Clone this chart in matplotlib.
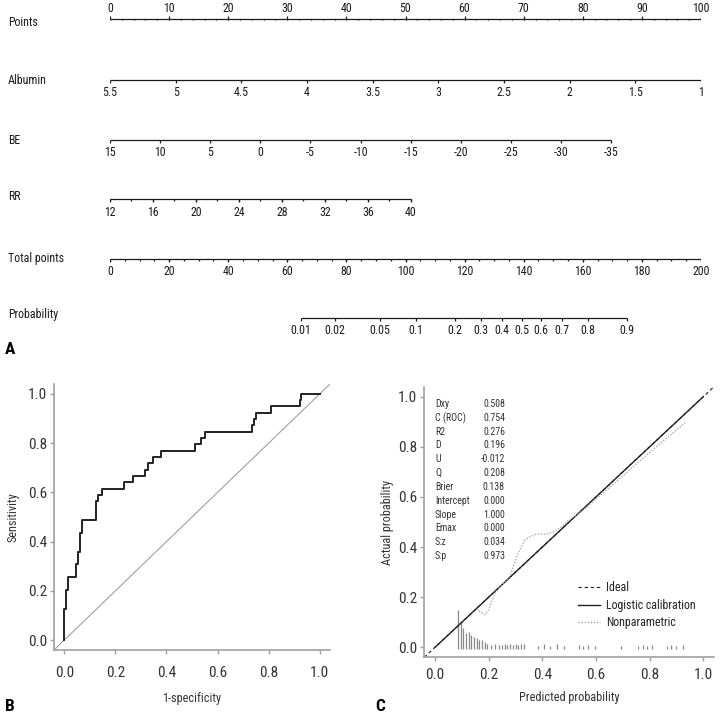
import numpy as np
import matplotlib
matplotlib.use('Agg')
import matplotlib.pyplot as plt
from matplotlib.transforms import blended_transform_factory

plt.rcParams['font.family'] = ['Roboto Condensed', 'Archivo Narrow', 'PT Sans Narrow',
                               'Liberation Sans', 'DejaVu Sans']

# ---------------- nomogram (A) ----------------
points_ticks = np.arange(0, 101, 10)
points_minor = np.arange(0, 101, 2)
albumin_ticks = [5.5, 5, 4.5, 4, 3.5, 3, 2.5, 2, 1.5, 1]
be_ticks = [15, 10, 5, 0, -5, -10, -15, -20, -25, -30, -35]
rr_ticks = [12, 16, 20, 24, 28, 32, 36, 40]
rr_minor = np.arange(12, 41, 2)
total_ticks = np.arange(0, 201, 20)
total_minor = np.arange(0, 201, 5)
prob_ticks = [0.01, 0.02, 0.05, 0.1, 0.2, 0.3, 0.4, 0.5, 0.6, 0.7, 0.8, 0.9]

# points scale of each predictor (value at 0 points, value at max, max points)
albumin_range = (5.5, 1.0, 100.0)
be_range = (15.0, -35.0, 84.8)
rr_range = (12.0, 40.0, 50.9)
# total points = prob_a + prob_b * logit(p)
prob_a, prob_b = 139.3, 16.25

# ---------------- ROC (B) ----------------
roc_fpr = [0, 0, 0.0065, 0.013, 0.045, 0.052, 0.060, 0.068, 0.123, 0.131, 0.147,
           0.232, 0.271, 0.318, 0.326, 0.348, 0.379, 0.510, 0.536, 0.549, 0.736,
           0.743, 0.749, 0.811, 0.922, 0.928, 1.0]
roc_tpr = [0, 0.128, 0.205, 0.256, 0.308, 0.359, 0.436, 0.487, 0.564, 0.590, 0.615,
           0.641, 0.667, 0.692, 0.718, 0.744, 0.769, 0.795, 0.821, 0.846, 0.872,
           0.897, 0.923, 0.949, 0.974, 1.0, 1.0]

# ---------------- calibration (C) ----------------
np_x = [0.155, 0.17, 0.186, 0.20, 0.211, 0.224, 0.25, 0.28, 0.304, 0.335, 0.354, 0.379,
        0.416, 0.441, 0.472, 0.491, 0.55, 0.6, 0.7, 0.8, 0.932]
np_y = [0.152, 0.14, 0.130, 0.15, 0.182, 0.215, 0.25, 0.285, 0.362, 0.428, 0.441, 0.452,
        0.452, 0.46, 0.481, 0.501, 0.545, 0.592, 0.684, 0.778, 0.896]
spike_x = [0.087, 0.096, 0.105, 0.115, 0.125, 0.135, 0.145, 0.155, 0.165, 0.175, 0.185, 0.195,
           0.21, 0.225, 0.24, 0.25, 0.26, 0.27, 0.28, 0.29, 0.30, 0.31, 0.32, 0.33,
           0.385, 0.405, 0.43, 0.455, 0.48, 0.535, 0.55, 0.57, 0.595, 0.695,
           0.755, 0.775, 0.79, 0.81, 0.865, 0.88, 0.90, 0.925]
spike_h = [0.149, 0.098, 0.076, 0.056, 0.062, 0.049, 0.040, 0.036, 0.029, 0.029, 0.021, 0.014,
           0.008, 0.013, 0.008, 0.010, 0.013, 0.008, 0.013, 0.010, 0.013, 0.008, 0.013, 0.015,
           0.007, 0.012, 0.007, 0.012, 0.006, 0.010, 0.006, 0.010, 0.006, 0.007,
           0.006, 0.010, 0.006, 0.010, 0.007, 0.011, 0.007, 0.010]
stat_names = ['Dxy', 'C (ROC)', 'R2', 'D', 'U', 'Q', 'Brier', 'Intercept', 'Slope', 'Emax', 'S:z', 'S:p']
stat_values = ['0.508', '0.754', '0.276', '0.196', '-0.012', '0.208', '0.138', '0.000', '1.000',
               '0.000', '0.034', '0.973']

W, H = 723, 713
fig = plt.figure(figsize=(W / 100, H / 100), dpi=100)
INK = '#1a1a1a'
GREY = '#a0a0a0'
NOMO_FS = 8.6


def fig_box(left, top, right, bottom):
    # pixel box -> figure fraction
    return [left / W, 1 - bottom / H, (right - left) / W, (bottom - top) / H]


# ---- A: nomogram ----
ax = fig.add_axes(fig_box(110, 0, 701, 350))
ax.set_xlim(0, 100)
ax.set_ylim(350, 0)
ax.axis('off')
lab_tr = blended_transform_factory(fig.transFigure, ax.transData)


def lin_pts(vals, rng):
    v0, v1, pmax = rng
    return (np.asarray(vals, float) - v0) / (v1 - v0) * pmax


def scale_row(y, pos, labels, minor=None, above=False, name=None, name_y=None):
    ax.plot([min(pos), max(pos)], [y, y], color=INK, lw=0.9, solid_capstyle='butt')
    if above:
        ax.vlines(pos, y - 3, y, color=INK, lw=0.9)
        if minor is not None:
            ax.vlines(minor, y, y + 1.5, color=INK, lw=0.9)
        for p, s in zip(pos, labels):
            ax.text(p, y - 11, s, ha='center', va='center', fontsize=NOMO_FS, color=INK)
    else:
        ax.vlines(pos, y, y + 3, color=INK, lw=0.9)
        if minor is not None:
            ax.vlines(minor, y, y + 2, color=INK, lw=0.9)
        for p, s in zip(pos, labels):
            ax.text(p, y + 13, s, ha='center', va='center', fontsize=NOMO_FS, color=INK)
    if name:
        ax.text(8 / W, name_y if name_y else y, name, transform=lab_tr, ha='left', va='center',
                fontsize=NOMO_FS, color=INK)


scale_row(19, points_ticks, [str(v) for v in points_ticks], minor=points_minor, above=True,
          name='Points', name_y=22)
scale_row(80, lin_pts(albumin_ticks, albumin_range), [f'{v:g}' for v in albumin_ticks],
          name='Albumin')
scale_row(140, lin_pts(be_ticks, be_range), [f'{v:g}' for v in be_ticks], name='BE')
scale_row(199, lin_pts(rr_ticks, rr_range), [str(v) for v in rr_ticks],
          minor=lin_pts(rr_minor, rr_range), name='RR', name_y=197)
scale_row(259, total_ticks / 2, [str(v) for v in total_ticks], minor=total_minor / 2,
          name='Total points')
pt = np.array(prob_ticks)
scale_row(318, (prob_a + prob_b * np.log(pt / (1 - pt))) / 2, [f'{v:g}' for v in prob_ticks],
          name='Probability', name_y=315)
fig.text(5 / W, 1 - 354 / H, 'A', fontsize=12.5, fontweight='bold', ha='left', va='baseline')


def style_axes(a, xpad):
    a.set_xlim(-0.04, 1.04)
    a.set_ylim(-0.04, 1.04)
    for s in ['top', 'right']:
        a.spines[s].set_visible(False)
    for s in ['left', 'bottom']:
        a.spines[s].set_color(GREY)
        a.spines[s].set_linewidth(1.2)
    ticks = [0, 0.2, 0.4, 0.6, 0.8, 1.0]
    a.set_xticks(ticks)
    a.set_yticks(ticks)
    a.set_xticklabels([f'{t:.1f}' for t in ticks])
    a.set_yticklabels([f'{t:.1f}' for t in ticks])
    a.tick_params(axis='both', length=3, width=1, color=GREY, labelcolor='#333333',
                  labelsize=11)
    a.tick_params(axis='x', pad=xpad)
    a.tick_params(axis='y', pad=2)


# ---- B: ROC ----
axb = fig.add_axes(fig_box(54, 384, 330, 650))
style_axes(axb, 8.5)
axb.plot([-0.04, 1.04], [-0.04, 1.04], color=GREY, lw=0.8)
axb.step(roc_fpr, roc_tpr, where='post', color='#222222', lw=1.4)
axb.set_xlabel('1-specificity', fontsize=8.8, color='#333333', labelpad=9)
axb.set_ylabel('Sensitivity', fontsize=8.8, color='#333333', labelpad=6)
fig.text(5 / W, 1 - 711 / H, 'B', fontsize=12.5, fontweight='bold', ha='left', va='baseline')

# ---- C: calibration ----
axc = fig.add_axes(fig_box(424.3, 386.7, 714, 657.3))
style_axes(axc, 4.5)
axc.vlines(spike_x, -0.005, spike_h, color='#888888', lw=0.9)
axc.plot([-0.04, 1.04], [-0.04, 1.04], color='#222222', lw=0.8, ls=(0, (3, 2.5)), label='Ideal')
axc.plot([0, 1], [0, 1], color='#222222', lw=1.0, label='Logistic calibration')
axc.plot(np_x, np_y, color='#aaaaaa', lw=1.0, ls=(0, (1, 1.2)), label='Nonparametric')
for i, (n, v) in enumerate(zip(stat_names, stat_values)):
    yy = 0.971 - i * 0.0552
    axc.text(0.0, yy, n, fontsize=7.1, color='#333333', ha='left', va='center')
    axc.text(0.261, yy, v, fontsize=7.1, color='#333333', ha='right', va='center')
axc.legend(loc='lower left', bbox_to_anchor=(0.534, 0.072), bbox_transform=axc.transData,
           frameon=False, fontsize=8.6, handlelength=1.8, handletextpad=0.55,
           labelspacing=0.38, borderpad=0, borderaxespad=0, labelcolor='#222222')
axc.set_xlabel('Predicted probability', fontsize=8.8, color='#333333', labelpad=6.5)
axc.set_ylabel('Actual probability', fontsize=8.8, color='#333333', labelpad=3)
fig.text(375 / W, 1 - 711 / H, 'C', fontsize=12.5, fontweight='bold', ha='left', va='baseline')

fig.savefig('out.png', dpi=100)
